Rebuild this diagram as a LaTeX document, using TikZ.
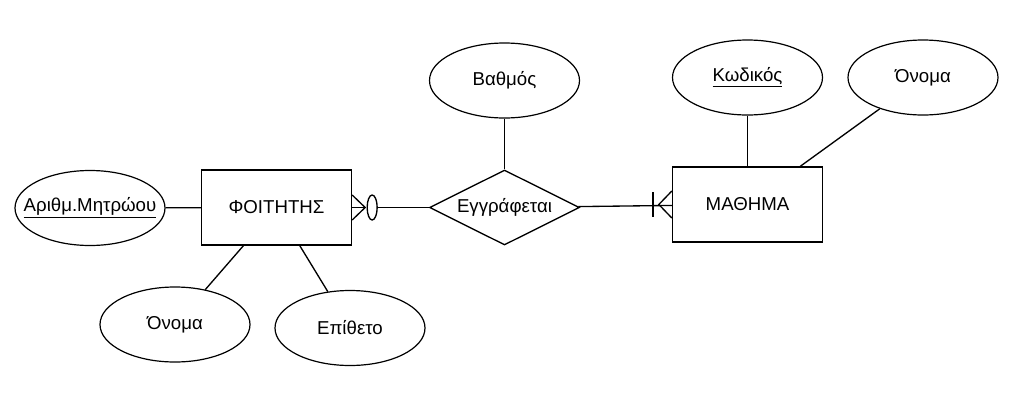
\documentclass[tikz,border=0pt]{standalone}
\usepackage{fontspec}
\setmainfont{Liberation Sans}
\usetikzlibrary{shapes.geometric,calc}
\begin{document}
\begin{tikzpicture}[x=0.75pt,y=-0.75pt,line width=1pt,
  font=\fontsize{14}{16.5}\selectfont,
  attr/.style={ellipse,draw,line width=0.9pt,minimum width=112.5pt,minimum height=56.25pt,inner sep=0pt},
  entity/.style={rectangle,draw,minimum width=112.5pt,minimum height=56.25pt,inner sep=0pt},
  relship/.style={diamond,draw,aspect=2,minimum width=112.5pt,minimum height=56.25pt,inner sep=0pt},
  zerocirc/.style={ellipse,draw,minimum width=7.5pt,minimum height=18.75pt,inner sep=0pt}]
\useasboundingbox (0,0) rectangle (1029,408);
% entities
\node[entity] (foit) at (276.5,207.5) {ΦΟΙΤΗΤΗΣ};
\node[entity] (math) at (747.5,204.5) {ΜΑΘΗΜΑ};
% relationship
\node[relship] (rel) at (504.5,207.5) {Εγγράφεται};
% attributes
\node[attr,label=center:{\underline{Αριθμ.Μητρώου}}] (am) at (90,208) {};
\node[attr,label=center:{Όνομα}] (onL) at (175,324.5) {};
\node[attr,label=center:{Επίθετο}] (epi) at (350,328) {};
\node[attr,label=center:{Βαθμός}] (vath) at (504.5,80.5) {};
\node[attr,label=center:{\underline{Κωδικός}}] (kod) at (747.5,77.5) {};
\node[attr,label=center:{Όνομα}] (onR) at (923,77.5) {};
% attribute links
\draw (am) -- (foit);
\draw (onL) -- (foit);
\draw (epi) -- (foit);
\draw (vath) -- (rel);
\draw (kod) -- (math);
\draw (onR) -- (math);
% zero-to-many at ΦΟΙΤΗΤΗΣ
\coordinate (fa) at ($(foit.east)+(13,0)$);
\draw (foit.east) -- (fa);
\draw ($(foit.east)+(0,-12.5)$) -- (fa) -- ($(foit.east)+(0,12.5)$);
\node[zerocirc] (zero) at ($(foit.east)+(20,0)$) {};
\draw (zero) -- (rel);
% one-to-many at ΜΑΘΗΜΑ
\draw (rel) -- (math);
\coordinate (ma) at ($(math.west)+(-13,0)$);
\coordinate (mb) at ($(math.west)+(-19,0)$);
\draw ($(math.west)+(0,-13.5)$) -- (ma) -- ($(math.west)+(0,13.5)$);
\draw ($(mb)+(0,-12.5)$) -- ($(mb)+(0,12.5)$);
\end{tikzpicture}
\end{document}
